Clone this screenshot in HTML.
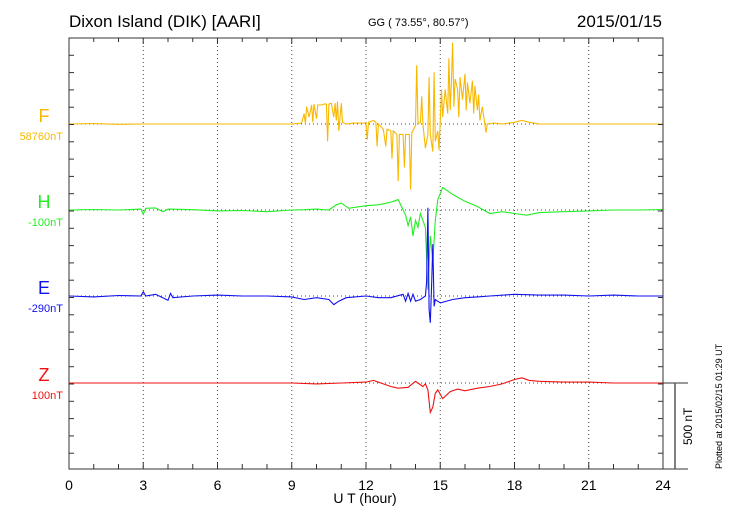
<!DOCTYPE html>
<html><head><meta charset="utf-8"><style>
body{margin:0;background:#fff;}
svg{display:block;font-family:"Liberation Sans",sans-serif;}
</style></head><body>
<svg id="c" width="730" height="520" viewBox="0 0 730 520">
<text x="69" y="27" font-size="17">Dixon Island (DIK)  [AARI]</text>
<text x="368" y="26" font-size="11">GG ( 73.55°,  80.57°)</text>
<text x="662" y="27" font-size="17" text-anchor="end">2015/01/15</text>
<g id="grid"></g>
<g id="series"></g>
<g id="axes"></g>
<text x="365" y="503" font-size="14" text-anchor="middle">U T (hour)</text>
<text transform="translate(722,469) rotate(-90)" font-size="9">Plotted at 2015/02/15 01:29 UT</text>
</svg>
<script>
const hours=[0,3,6,9,12,15,18,21,24];
const compNames=["F","H","E","Z"];
const compBase=["58760nT","-100nT","-290nT","100nT"];
const compColor=["#f8b800","#22ee22","#1010ee","#ee1010"];
const fT=[0,1,2,3,6,9,9.4,9.5,9.55,9.6,9.7,9.8,9.85,9.9,10,10.05,10.2,10.3,10.4,10.45,10.5,10.6,10.7,10.75,10.8,10.85,10.9,11,11.05,11.2,11.5,12,12.05,12.1,12.3,12.4,12.45,12.5,12.7,12.8,12.85,13,13.05,13.1,13.25,13.3,13.35,13.5,13.55,13.6,13.75,13.8,13.85,14,14.05,14.1,14.2,14.25,14.3,14.4,14.5,14.55,14.6,14.7,14.75,14.8,14.9,14.95,15,15.05,15.1,15.2,15.3,15.35,15.4,15.45,15.5,15.55,15.6,15.7,15.75,15.8,15.9,16,16.05,16.1,16.2,16.3,16.35,16.4,16.5,16.55,16.6,16.7,16.8,16.85,16.9,17.2,17.5,18,18.3,18.6,19,21,24];
const fV=[0,3,-2,0,0,0,5,60,0,100,40,110,10,115,30,110,110,115,115,-100,115,120,40,120,20,130,-40,120,10,0,5,5,-90,10,20,10,-130,0,-30,-130,-30,-40,-200,-40,-60,-330,-60,-60,-250,-60,-60,-380,-50,-10,340,0,10,160,0,-140,-60,270,-60,-160,300,-100,-40,-150,20,200,40,200,60,380,80,240,470,100,260,200,40,270,140,290,80,240,120,250,60,220,80,170,20,100,0,-50,0,5,0,10,20,10,0,0,0];
const hT=[0,1,2,2.9,3,3.1,3.5,3.8,4,5,6,7,8,9,9.5,10,10.5,10.8,11,11.3,12,12.5,13,13.3,13.6,13.7,13.8,13.9,14,14.1,14.2,14.3,14.4,14.5,14.6,14.7,14.8,14.9,15.1,15.5,16,16.5,17,17.5,18,18.5,19,20,21,22,23,24];
const hV=[0,3,0,5,-25,10,12,-10,5,2,-5,-3,-10,0,2,5,0,30,40,10,25,30,45,60,-30,-90,-40,-150,-60,-100,-20,-60,-100,-460,-150,-300,-60,60,130,90,50,20,-20,-10,-20,-30,-15,-10,-5,0,0,3];
const eT=[0,1,2,2.9,3,3.1,3.5,4,4.1,4.2,5,6,7,8,9,9.5,10,10.5,10.7,10.9,11.2,12,12.5,13,13.5,13.6,13.7,13.8,13.9,14,14.2,14.4,14.45,14.5,14.55,14.6,14.65,14.7,14.75,14.8,15,15.5,16,16.5,17,18,19,20,21,22,23,24];
const eV=[0,-5,3,0,25,0,10,-25,15,-10,0,5,0,0,-5,-20,-10,-20,-50,-30,-10,0,-10,-10,10,-30,15,-30,10,-30,-20,0,80,510,-80,-155,60,300,-60,-20,-40,-20,-10,-5,0,10,5,5,0,5,0,0];
const zT=[0,3,6,9,10,11,12,12.3,12.6,13,13.3,13.7,14,14.3,14.4,14.5,14.6,14.7,14.8,14.9,15.1,15.4,15.7,16,16.5,17,17.5,18,18.3,18.6,19,20,21,22,24];
const zV=[0,0,0,0,-5,0,5,15,0,-20,-30,-25,10,-20,-5,-40,-170,-140,-60,-40,-90,-50,-35,-45,-30,-20,-5,20,30,15,10,5,5,0,0];
const tList=[fT,hT,eT,zT], vList=[fV,hV,eV,zV];
const L=69,R=663,T=38,B=469,NS="http://www.w3.org/2000/svg";
const baseY=[124,210,296,383];
const pxPerNT=86.5/500;
const xs=h=>L+h*(R-L)/24;
const ys=(i,v)=>baseY[i]-v*pxPerNT;
function mk(tag,at,par){const e=document.createElementNS(NS,tag);for(const k in at)e.setAttribute(k,at[k]);par.appendChild(e);return e;}
const grid=document.getElementById('grid'),ser=document.getElementById('series'),ax=document.getElementById('axes');
hours.slice(1,-1).forEach(h=>{const g=mk('line',{x1:xs(h),x2:xs(h),y1:T,y2:B,stroke:'#444','stroke-width':1,'stroke-dasharray':'1,3'},grid);

});
baseY.forEach((y,i)=>{const g=mk('line',{x1:L,x2:R,y1:y,y2:y,stroke:'#444','stroke-width':1,'stroke-dasharray':'1,3'},grid);

});
tList.forEach((ts,i)=>{const pts=ts.map((t,j)=>xs(t).toFixed(1)+','+ys(i,vList[i][j]).toFixed(1)).join(' ');
const p=mk('polyline',{points:pts,fill:'none',stroke:compColor[i],'stroke-width':1.1},ser);


const t1=mk('text',{x:44,y:baseY[i]-2,'font-size':18,'text-anchor':'middle',fill:compColor[i]},ser);t1.textContent=compNames[i];


const t2=mk('text',{x:63,y:baseY[i]+16,'font-size':11,'text-anchor':'end',fill:compColor[i]},ser);t2.textContent=compBase[i];

});
const fr=mk('rect',{x:L,y:T,width:R-L,height:B-T,fill:'none',stroke:'#333','stroke-width':1},ax);


for(let h=0;h<=24;h++){mk('line',{x1:xs(h),x2:xs(h),y1:B,y2:B-(h%3?5:7),stroke:'#333'},ax);mk('line',{x1:xs(h),x2:xs(h),y1:T,y2:T+(h%3?4:6),stroke:'#333'},ax);}
for(let y=T+17.3;y<B;y+=17.3){mk('line',{x1:L,x2:L+5,y1:y,y2:y,stroke:'#333'},ax);mk('line',{x1:R,x2:R-5,y1:y,y2:y,stroke:'#333'},ax);}
hours.forEach(h=>{const t=mk('text',{x:xs(h),y:490,'font-size':14,'text-anchor':'middle'},ax);t.textContent=h;

});
mk('line',{x1:R,x2:688,y1:383,y2:383,stroke:'#333'},ax);
mk('line',{x1:R,x2:688,y1:469,y2:469,stroke:'#333'},ax);
const sb=mk('line',{x1:675,x2:675,y1:383,y2:469,stroke:'#555','stroke-width':1.5},ax);


const st=mk('text',{transform:'translate(692,445) rotate(-90)','font-size':12},ax);st.textContent='500 nT';


</script>
</body></html>
